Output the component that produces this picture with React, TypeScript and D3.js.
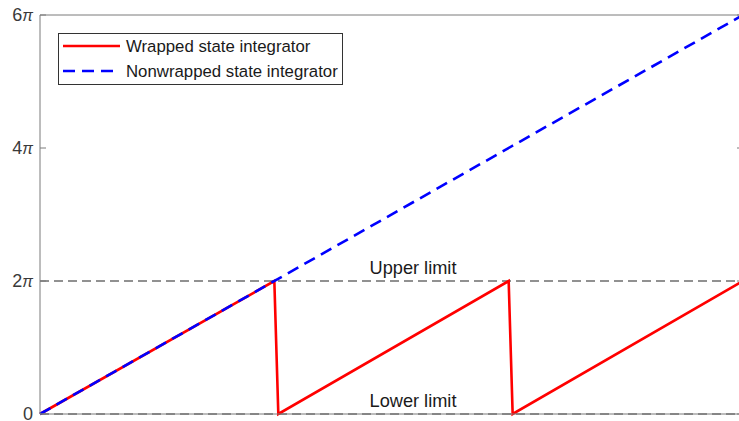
import React from 'react';
import * as d3 from 'd3';

// time in periods, phase in radians
const wrappedTime = [0, 1, 1.017, 2, 2.017, 3];
const wrappedPhase = [0, 2 * Math.PI, 0, 2 * Math.PI, 0, 2 * Math.PI];
const unwrappedTime = [0, 3];
const unwrappedPhase = [0, 6 * Math.PI];
const yTicks = [0, 2 * Math.PI, 4 * Math.PI, 6 * Math.PI];
const yTickLabels = ['0', '2', '4', '6'];
const limits = [
  { value: 2 * Math.PI, label: 'Upper limit' },
  { value: 0, label: 'Lower limit' },
];
const legendItems = [
  { label: 'Wrapped state integrator', color: '#ff0000', dash: null },
  { label: 'Nonwrapped state integrator', color: '#0000ff', dash: '12 7' },
];

const width = 739;
const height = 421;
const margin = { top: 15, right: -4, bottom: 7, left: 40 };

export default function App() {
  const x = d3.scaleLinear()
    .domain([0, 3])
    .range([margin.left, width - margin.right]);
  const y = d3.scaleLinear()
    .domain([0, 6 * Math.PI])
    .range([height - margin.bottom, margin.top]);

  const line = d3.line<[number, number]>()
    .x(d => x(d[0]))
    .y(d => y(d[1]));

  const wrapped = wrappedTime.map((t, i) => [t, wrappedPhase[i]] as [number, number]);
  const unwrapped = unwrappedTime.map((t, i) => [t, unwrappedPhase[i]] as [number, number]);

  const [x0, x1] = x.range();
  const [yb, yt] = y.range();
  const font = '"Liberation Sans", Arial, sans-serif';
  const axisColor = '#7a7a7a';

  return (
    <svg width={width} height={height}
      style={{ position: 'absolute', left: 0, top: 0, background: '#fff' }}
      fontFamily={font}>
      {/* limit lines */}
      {limits.map(l => (
        <g key={l.label}>
          <line x1={x0} x2={x1} y1={y(l.value)} y2={y(l.value)}
            stroke="#6e6e6e" strokeWidth={1.3} strokeDasharray="9 5" />
          <text x={413} y={y(l.value) - 7} textAnchor="middle"
            fontSize={18.2} fill="#1a1a1a">{l.label}</text>
        </g>
      ))}

      {/* series */}
      <path d={line(wrapped) || ''} fill="none" stroke="#ff0000" strokeWidth={2.6} />
      <path d={line(unwrapped) || ''} fill="none" stroke="#0000ff" strokeWidth={2.6}
        strokeDasharray="12 7" />

      {/* axes box */}
      <line x1={x0} x2={x0} y1={yt} y2={yb} stroke={axisColor} strokeWidth={1} />
      <line x1={x0} x2={x1} y1={yt} y2={yt} stroke={axisColor} strokeWidth={1} />
      <line x1={x0} x2={x1} y1={yb} y2={yb} stroke={axisColor} strokeWidth={1} />
      <line x1={x1} x2={x1} y1={yt} y2={yb} stroke={axisColor} strokeWidth={1} />

      {yTicks.map((t, i) => (
        <g key={i}>
          <line x1={x0} x2={x0 + 6} y1={y(t)} y2={y(t)} stroke={axisColor} />
          <line x1={x1} x2={x1 - 6} y1={y(t)} y2={y(t)} stroke={axisColor} />
          <text x={x0 - 7} y={y(t)} dy="0.35em" textAnchor="end" fontSize={18} fill="#3a3a3a">
            {yTickLabels[i]}
            {t !== 0 && <tspan fontStyle="italic" fontSize={16}>π</tspan>}
          </text>
        </g>
      ))}

      {/* legend */}
      <g>
        <rect x={58.5} y={33.5} width={284} height={51} fill="#fff" stroke="#333" strokeWidth={1} />
        {legendItems.map((d, i) => (
          <g key={d.label} transform={`translate(0, ${46 + i * 25})`}>
            <line x1={63} x2={120} y1={0} y2={0} stroke={d.color} strokeWidth={2.6}
              strokeDasharray={d.dash || undefined} />
            <text x={126} y={0} dy="0.35em" fontSize={16.8} fill="#1a1a1a">{d.label}</text>
          </g>
        ))}
      </g>
    </svg>
  );
}
